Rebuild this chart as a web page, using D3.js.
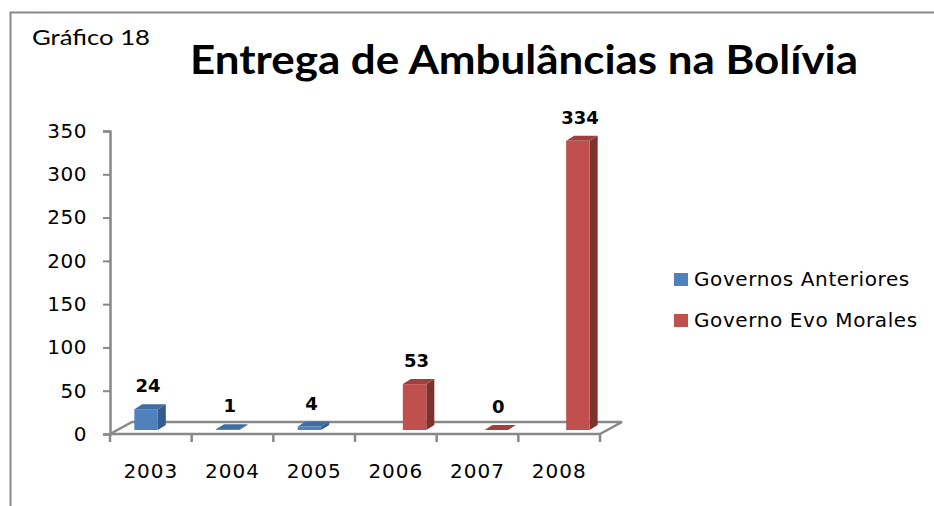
<!DOCTYPE html>
<html>
<head>
<meta charset="utf-8">
<script src="https://cdn.jsdelivr.net/npm/d3@7"></script>
<style>
  body { margin: 0; background: #fff; }
  text { font-family: "DejaVu Sans", sans-serif; fill: #000; }
</style>
</head>
<body>
<svg id="chart"></svg>
<script>
const years = ["2003", "2004", "2005", "2006", "2007", "2008"];
const seriesNames = ["Governos Anteriores", "Governo Evo Morales"];
const anteriores = [24, 1, 4, null, null, null];
const evoMorales = [null, null, null, 53, 0, 334];
const yTicks = [0, 50, 100, 150, 200, 250, 300, 350];

const W = 934, H = 506;
const svg = d3.select("#chart").attr("width", W).attr("height", H);

// frame (cropped on the right and bottom)
svg.append("path")
    .attr("d", `M10.5,${H} V12.5 H${W}`)
    .attr("fill", "none")
    .attr("stroke", "#898989")
    .attr("stroke-width", 2);

svg.append("text")
    .attr("x", 32).attr("y", 45)
    .style("font-family", "Lato, sans-serif")
    .attr("font-size", 22)
    .attr("textLength", 118).attr("lengthAdjust", "spacingAndGlyphs")
    .text("Gráfico 18");

svg.append("text")
    .attr("x", 190).attr("y", 74)
    .style("font-family", "Lato, sans-serif")
    .attr("font-size", 40).attr("font-weight", "bold")
    .attr("textLength", 668).attr("lengthAdjust", "spacingAndGlyphs")
    .text("Entrega de Ambulâncias na Bolívia");

// scales
const left = 110, right = 600;
const xCat = d3.scaleBand().domain(years).range([left, right]);
const x0 = d3.scaleBand().domain(years).range([left, right])
    .paddingInner(0.4245).paddingOuter(0.21225);
const x1 = d3.scaleBand().domain(seriesNames).range([0, x0.bandwidth()]);
const y = d3.scaleLinear().domain([0, 350]).range([434, 131]);

// 3d offsets
const floorDX = 22, floorDY = 12;
const barOffX = 7, barOffY = 4;
const depthX = 8, depthY = 5;
const axisColor = "#888";

// floor
const y0 = y(0);
svg.append("path")
    .attr("d", `M${left},${y0} L${left + floorDX},${y0 - floorDY} H${right + floorDX} L${right},${y0}`)
    .attr("fill", "none").attr("stroke", axisColor).attr("stroke-width", 2.5);

// y axis
const yAxis = svg.append("g").attr("transform", `translate(${left},0)`)
    .call(d3.axisLeft(y).tickValues(yTicks).tickSize(7).tickPadding(16).tickFormat(d3.format("d")));
yAxis.select(".domain").attr("stroke", axisColor).attr("stroke-width", 2.5);
yAxis.selectAll(".tick line").attr("stroke", axisColor).attr("stroke-width", 2);
yAxis.selectAll(".tick text").attr("font-size", 20).attr("font-family", "DejaVu Sans")
    .attr("fill", "#000").attr("letter-spacing", 0.5);

// x axis: line at front of floor, ticks between categories
svg.append("line")
    .attr("x1", left).attr("x2", right).attr("y1", y0).attr("y2", y0)
    .attr("stroke", axisColor).attr("stroke-width", 2.5);
const bounds = years.map(d => xCat(d)).concat([right]);
svg.selectAll(".xtick").data(bounds).join("line")
    .attr("class", "xtick")
    .attr("x1", d => d).attr("x2", d => d)
    .attr("y1", y0).attr("y2", y0 + 8)
    .attr("stroke", axisColor).attr("stroke-width", 2.5);
svg.selectAll(".xlabel").data(years).join("text")
    .attr("class", "xlabel")
    .attr("x", d => xCat(d) + xCat.bandwidth() / 2)
    .attr("y", 478)
    .attr("text-anchor", "middle")
    .attr("font-size", 20)
    .attr("letter-spacing", 1)
    .text(d => d);

// bars
const colors = {
    "Governos Anteriores": { front: "#4F81BD", top: "#3F6CA3", side: "#355C8C" },
    "Governo Evo Morales": { front: "#C0504D", top: "#A0403D", side: "#7E3230" }
};
const barData = [];
[anteriores, evoMorales].forEach((vals, si) => {
    vals.forEach((v, i) => {
        if (v !== null) barData.push({ year: years[i], series: seriesNames[si], value: v });
    });
});

const bars = svg.selectAll(".bar").data(barData).join("g").attr("class", "bar");
bars.each(function (d) {
    const g = d3.select(this);
    const c = colors[d.series];
    const bx = x0(d.year) + x1(d.series) + barOffX;
    const bw = x1.bandwidth();
    const by = y(d.value) - barOffY;
    const bb = y0 - barOffY;
    // side
    g.append("path")
        .attr("d", `M${bx + bw},${by} L${bx + bw + depthX},${by - depthY} V${bb - depthY} L${bx + bw},${bb} Z`)
        .attr("fill", c.side);
    // front
    g.append("rect")
        .attr("x", bx).attr("y", by).attr("width", bw).attr("height", Math.max(0, bb - by))
        .attr("fill", c.front);
    // top
    g.append("path")
        .attr("d", `M${bx},${by} L${bx + depthX},${by - depthY} H${bx + bw + depthX} L${bx + bw},${by} Z`)
        .attr("fill", c.top);
    // value label
    g.append("text")
        .attr("x", bx + bw / 2 + 2)
        .attr("y", by - depthY - 12)
        .attr("text-anchor", "middle")
        .attr("font-size", 18).attr("font-weight", "bold")
        .text(d.value);
});

// legend
const legend = svg.selectAll(".legend").data(seriesNames).join("g")
    .attr("class", "legend")
    .attr("transform", (d, i) => `translate(674,${273 + i * 41})`);
legend.append("rect")
    .attr("width", 14).attr("height", 13)
    .attr("fill", d => colors[d].front);
legend.append("text")
    .attr("x", 20).attr("y", 13)
    .attr("font-size", 20)
    .attr("letter-spacing", 0.6)
    .text(d => d);
</script>
</body>
</html>
